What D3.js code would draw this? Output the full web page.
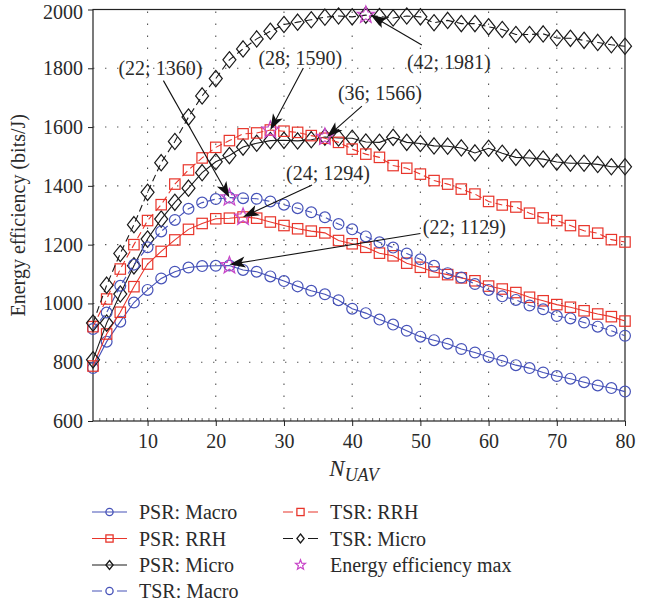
<!DOCTYPE html>
<html><head><meta charset="utf-8">
<script src="https://cdn.jsdelivr.net/npm/d3@7/dist/d3.min.js"></script>
<style>
body{margin:0;background:#fff}
svg{display:block}
text{font-family:"Liberation Serif","Times New Roman",serif;fill:#2a2a2a}
</style>
</head><body>
<svg id="c" width="653" height="605"></svg>
<script>
// ---------------- data ----------------
const nUAV = [2,4,6,8,10,12,14,16,18,20,22,24,26,28,30,32,34,36,38,40,42,44,46,48,50,52,54,56,58,60,62,64,66,68,70,72,74,76,78,80];
const psrMacro = [780,870,938,1003,1046,1085,1108,1122,1127,1128,1129,1114,1108,1092,1076,1058,1043,1031,1011,982,967,945,928,907,887,875,863,845,833,818,805,790,780,765,753,744,732,721,712,700];
const psrRRH   = [787,896,970,1057,1134,1177,1216,1252,1272,1288,1290,1294,1290,1277,1265,1254,1246,1240,1214,1203,1191,1171,1162,1137,1123,1107,1098,1087,1077,1059,1049,1037,1021,1009,996,987,975,964,955,940];
const psrMicro = [808,933,1032,1128,1219,1287,1344,1392,1445,1482,1503,1532,1545,1554,1555,1553,1557,1566,1563,1562,1549,1548,1565,1548,1544,1536,1535,1529,1512,1528,1511,1497,1495,1491,1481,1477,1477,1473,1465,1465];
const tsrMacro = [913,969,1060,1132,1191,1245,1284,1322,1343,1355,1360,1358,1356,1347,1336,1324,1310,1293,1270,1252,1228,1208,1190,1170,1150,1128,1103,1088,1066,1046,1024,1012,993,980,957,949,935,921,907,890];
const tsrRRH   = [921,1015,1117,1200,1282,1336,1406,1454,1495,1531,1554,1577,1580,1590,1586,1582,1571,1562,1548,1525,1508,1497,1469,1460,1440,1418,1406,1389,1372,1347,1335,1328,1307,1291,1282,1265,1247,1239,1217,1209];
const tsrMicro = [933,1062,1170,1268,1378,1479,1551,1634,1706,1765,1829,1866,1900,1926,1949,1957,1965,1974,1978,1975,1981,1976,1971,1978,1975,1955,1963,1952,1952,1941,1932,1915,1915,1917,1903,1902,1895,1888,1880,1875];
const seriesNames = ["PSR: Macro","PSR: RRH","PSR: Micro","TSR: Macro","TSR: RRH","TSR: Micro"];
const maxN = [22,28,42,36,24,22];
const maxEE = [1360,1590,1981,1566,1294,1129];
const maxLabels = ["(22; 1360)","(28; 1590)","(42; 1981)","(36; 1566)","(24; 1294)","(22; 1129)"];
const xTicks = [10,20,30,40,50,60,70,80];
const yTicks = [600,800,1000,1200,1400,1600,1800,2000];
const legendMaxLabel = "Energy efficiency max";

// ---------------- styles / layout ----------------
const BLUE="#4652b8", RED="#e8352b", BLACK="#1a1a1a", MAG="#c845c8";
const seriesValues=[psrMacro,psrRRH,psrMicro,tsrMacro,tsrRRH,tsrMicro];
const seriesStyle=[
 {c:BLUE,m:"circle",d:false},{c:RED,m:"square",d:false},{c:BLACK,m:"diamond",d:false},
 {c:BLUE,m:"circle",d:true},{c:RED,m:"square",d:true},{c:BLACK,m:"diamond",d:true}];
// label centre offset and arrow start offset, relative to star (px)
const annLayout=[
 {lx:-69,ly:-129,sx:-66,sy:-117,tx:0,ty:0},
 {lx:30,ly:-72,sx:33,sy:-62,tx:0,ty:0},
 {lx:83,ly:47,sx:56,sy:30,tx:5,ty:0},
 {lx:55,ly:-44,sx:37,sy:-31,tx:2,ty:0},
 {lx:85,ly:-44,sx:69,sy:-32,tx:0,ty:0},
 {lx:235,ly:-38,sx:191,sy:-32,tx:0,ty:-1}];

const svg=d3.select("#c");
const L=93,R=625,T=9.5,B=421;
const x=d3.scaleLinear().domain([2,80]).range([L,R]);
const y=d3.scaleLinear().domain([600,2000]).range([B,T]);

// grid
const grid=svg.append("g").attr("stroke","#555").attr("stroke-width",1.1).attr("stroke-dasharray","1.4,10.6");
xTicks.filter(t=>t<80).forEach(t=>grid.append("line").attr("x1",x(t)).attr("x2",x(t)).attr("y1",B).attr("y2",T));
yTicks.filter(t=>t>600&&t<2000).forEach(t=>grid.append("line").attr("x1",L).attr("x2",R).attr("y1",y(t)).attr("y2",y(t)));

// axes
const xa=svg.append("g").attr("transform",`translate(0,${B})`)
  .call(d3.axisBottom(x).tickValues(xTicks).tickSize(5).tickFormat(d3.format("d")));
xa.select(".domain").remove();
xa.selectAll("text").attr("font-size",20).attr("dy","0.95em").attr("font-family","Liberation Serif").attr("fill","#2a2a2a");
xa.selectAll("line").attr("stroke","#222");
// minor ticks
const minor=svg.append("g").attr("stroke","#444").attr("stroke-width",0.8);
d3.range(3,80).forEach(t=>minor.append("line").attr("x1",x(t)).attr("x2",x(t)).attr("y1",B).attr("y2",B-3));

const ya=svg.append("g").attr("transform",`translate(${L},0)`)
  .call(d3.axisLeft(y).tickValues(yTicks).tickSize(5).tickPadding(5).tickFormat(d3.format("d")));
ya.select(".domain").remove();
ya.selectAll("text").attr("font-size",20).attr("font-family","Liberation Serif").attr("fill","#2a2a2a")
  .attr("dy",d=>d===2000?"0.45em":"0.32em");
ya.selectAll("line").attr("stroke","#222");

// frame
svg.append("rect").attr("x",L).attr("y",T).attr("width",R-L).attr("height",B-T)
  .attr("fill","none").attr("stroke","#222").attr("stroke-width",1.2);

// marker drawing
function drawMarker(g,type,cx,cy,color,s,sw){
  if(type==="circle") g.append("circle").attr("cx",cx).attr("cy",cy).attr("r",s)
     .attr("fill","none").attr("stroke",color).attr("stroke-width",sw);
  else if(type==="square") g.append("rect").attr("x",cx-s).attr("y",cy-s).attr("width",2*s).attr("height",2*s)
     .attr("fill","none").attr("stroke",color).attr("stroke-width",sw);
  else if(type==="diamond") g.append("path")
     .attr("d",`M${cx},${cy-s*1.25}L${cx+s},${cy}L${cx},${cy+s*1.25}L${cx-s},${cy}Z`)
     .attr("fill","none").attr("stroke",color).attr("stroke-width",sw);
  else if(type==="star"){
    const pts=[];for(let i=0;i<10;i++){const r=i%2?s*0.42:s;const a=-Math.PI/2+i*Math.PI/5;pts.push([cx+r*Math.cos(a),cy+r*Math.sin(a)]);}
    g.append("path").attr("d","M"+pts.map(p=>p.join(",")).join("L")+"Z")
     .attr("fill","none").attr("stroke",color).attr("stroke-width",sw);
  }
}
const msize={circle:5.4,square:5.2,diamond:6.5};

// series
const line=d3.line().x((d,i)=>x(nUAV[i])).y(d=>y(d));
seriesValues.forEach((vals,k)=>{
  const st=seriesStyle[k];
  const g=svg.append("g");
  g.append("path").attr("d",line(vals)).attr("fill","none").attr("stroke",st.c)
   .attr("stroke-width",1.1).attr("stroke-dasharray",st.d?"7,4":null);
  vals.forEach((v,i)=>drawMarker(g,st.m,x(nUAV[i]),y(v),st.c,msize[st.m],1.2));
});

// stars + annotations
const ag=svg.append("g");
maxN.forEach((n,i)=>{
  const sx=x(n),sy=y(maxEE[i]);
  drawMarker(ag,"star",sx,sy,MAG,9,1.2);
});
maxN.forEach((n,i)=>{
  const sx=x(n),sy=y(maxEE[i]),o=annLayout[i];
  const x1=sx+o.sx,y1=sy+o.sy,x2=sx+o.tx,y2=sy+o.ty;
  const a=Math.atan2(y2-y1,x2-x1);
  ag.append("line").attr("x1",x1).attr("y1",y1).attr("x2",x2-10*Math.cos(a)).attr("y2",y2-10*Math.sin(a))
    .attr("stroke","#111").attr("stroke-width",1.1);
  ag.append("path").attr("d","M0,0L-16,-5.5L-12,0L-16,5.5Z").attr("fill","#111")
    .attr("transform",`translate(${x2},${y2}) rotate(${a*180/Math.PI})`);
  ag.append("text").attr("x",sx+o.lx).attr("y",sy+o.ly+6.5).attr("text-anchor","middle")
    .attr("font-size",20).text(maxLabels[i]);
});

// axis titles
svg.append("text").attr("transform",`translate(25,${(T+B)/2}) rotate(-90)`).attr("text-anchor","middle")
  .attr("font-size",20).text("Energy efficiency (bits/J)");
const xt=svg.append("text").attr("x",(L+R)/2-5).attr("y",476).attr("text-anchor","middle").attr("font-style","italic");
xt.append("tspan").attr("font-size",23).text("N");
xt.append("tspan").attr("font-size",18).attr("dy",5).text("UAV");

// legend
const lg=svg.append("g");
const legItems=[
 {col:0,row:0,k:0},{col:0,row:1,k:1},{col:0,row:2,k:2},{col:0,row:3,k:3},
 {col:1,row:0,k:4},{col:1,row:1,k:5},{col:1,row:2,k:-1}];
const colX=[92,283], rowY=[512,538.5,565,591];
const lmsize={circle:3.6,square:3.6,diamond:3.6};
legItems.forEach(it=>{
  const x0=colX[it.col], yy=rowY[it.row];
  let label;
  if(it.k>=0){
    const st=seriesStyle[it.k];
    lg.append("line").attr("x1",x0).attr("x2",x0+35).attr("y1",yy).attr("y2",yy)
      .attr("stroke",st.c).attr("stroke-width",1.2).attr("stroke-dasharray",st.d?"10,15,10":null);
    drawMarker(lg,st.m,x0+17.5,yy,st.c,lmsize[st.m],1.3);
    label=seriesNames[it.k];
  } else {
    drawMarker(lg,"star",x0+17.5,yy,MAG,5.2,1.2);
    label=legendMaxLabel;
  }
  lg.append("text").attr("x",x0+47).attr("y",yy+7).attr("font-size",20).text(label);
});
</script>
</body></html>
